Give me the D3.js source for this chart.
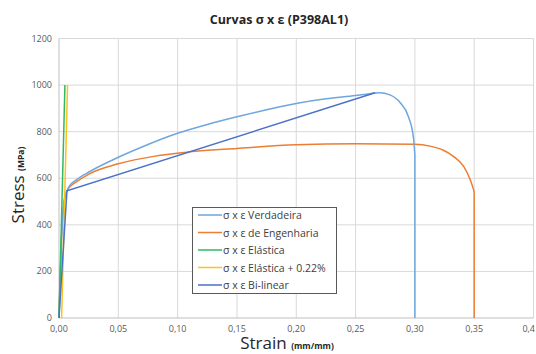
<!DOCTYPE html>
<html>
<head>
<meta charset="utf-8">
<script src="https://cdn.jsdelivr.net/npm/d3@7"></script>
<style>
  body { margin: 0; background: #fff; }
  text { font-family: "Open Sans", "DejaVu Sans", sans-serif; }
</style>
</head>
<body>
<div id="chart"></div>
<script>
// strain (mm/mm), stress (MPa)
const verdadeira = [
  [0, 0], [0.0025, 380], [0.0045, 510], [0.0067, 546], [0.009, 568], [0.0143, 592],
  [0.0256, 628], [0.05, 690], [0.075, 745], [0.10, 793], [0.125, 831], [0.15, 864],
  [0.175, 894], [0.20, 921], [0.225, 941], [0.25, 955], [0.262, 963], [0.27, 967],
  [0.279, 958], [0.2875, 925], [0.2945, 865], [0.2988, 775], [0.30, 700], [0.30, 0]
];
const engenharia = [
  [0, 0], [0.0025, 380], [0.0045, 505], [0.0067, 544], [0.009, 562], [0.0143, 583],
  [0.0256, 619], [0.05, 662], [0.081, 695], [0.106, 711], [0.15, 728], [0.20, 744],
  [0.25, 748], [0.30, 746], [0.3128, 738], [0.324, 720], [0.3325, 694], [0.341, 652],
  [0.3465, 596], [0.3494, 552], [0.35, 540], [0.35, 0]
];
const elastica = [[0, 0], [0.005, 1000]];
const elastica022 = [[0.0022, 0], [0.0072, 1000]];
const bilinear = [[0, 0], [0.0067, 546], [0.2665, 967]];

const seriesNames = ["σ x ε Verdadeira", "σ x ε de Engenharia", "σ x ε Elástica",
  "σ x ε Elástica + 0.22%", "σ x ε Bi-linear"];
const seriesColors = ["#6fa6dc", "#ed7d31", "#2fb866", "#ffc21a", "#4a72c8"];
const xTicks = [0, 0.05, 0.10, 0.15, 0.20, 0.25, 0.30, 0.35, 0.4];
const yTicks = [0, 200, 400, 600, 800, 1000, 1200];

const width = 536, height = 354;
const svg = d3.select("#chart").append("svg")
  .attr("width", width).attr("height", height);

const x = d3.scaleLinear().domain([0, 0.4]).range([59, 533.5]);
const y = d3.scaleLinear().domain([0, 1200]).range([318, 38.5]);

// grid
svg.append("g").selectAll("line").data(xTicks.slice(1)).enter().append("line")
  .attr("x1", d => x(d)).attr("x2", d => x(d))
  .attr("y1", y(0)).attr("y2", y(1200))
  .attr("stroke", "#d9d9d9").attr("stroke-width", 1);
svg.append("g").selectAll("line").data(yTicks.slice(1)).enter().append("line")
  .attr("x1", x(0)).attr("x2", x(0.4))
  .attr("y1", d => y(d)).attr("y2", d => y(d))
  .attr("stroke", "#d9d9d9").attr("stroke-width", 1);
svg.append("line")
  .attr("x1", x(0)).attr("x2", x(0)).attr("y1", y(0)).attr("y2", y(1200))
  .attr("stroke", "#bfbfbf");
svg.append("line")
  .attr("x1", x(0)).attr("x2", x(0.4)).attr("y1", y(0)).attr("y2", y(0))
  .attr("stroke", "#bfbfbf");

// tick labels
const fmt = d => d === 0.4 ? "0,4" : d3.format(".2f")(d).replace(".", ",");
svg.append("g").selectAll("text").data(xTicks).enter().append("text")
  .attr("x", d => d === 0.4 ? 535 : x(d)).attr("y", 332)
  .attr("text-anchor", d => d === 0.4 ? "end" : "middle")
  .attr("font-size", 9).attr("fill", "#595959")
  .text(fmt);
svg.append("g").selectAll("text").data(yTicks).enter().append("text")
  .attr("x", 52).attr("y", d => y(d) + 3)
  .attr("text-anchor", "end").attr("font-size", 9).attr("fill", "#595959")
  .text(d => d);

// curves
const smooth = d3.line().x(d => x(d[0])).y(d => y(d[1])).curve(d3.curveMonotoneX);
const straight = d3.line().x(d => x(d[0])).y(d => y(d[1]));

function drawCurve(data, color) {
  const n = data.length;
  svg.append("path").attr("d", smooth(data.slice(0, n - 1)))
    .attr("fill", "none").attr("stroke", color).attr("stroke-width", 1.5);
  svg.append("path").attr("d", straight(data.slice(n - 2)))
    .attr("fill", "none").attr("stroke", color).attr("stroke-width", 1.5);
}
function drawLine(data, color) {
  svg.append("path").attr("d", straight(data))
    .attr("fill", "none").attr("stroke", color).attr("stroke-width", 1.5);
}

drawCurve(engenharia, seriesColors[1]);
drawCurve(verdadeira, seriesColors[0]);
drawLine(elastica, seriesColors[2]);
drawLine(elastica022, seriesColors[3]);
drawLine(bilinear, seriesColors[4]);

// title
svg.append("text").attr("x", 279).attr("y", 24)
  .attr("text-anchor", "middle").attr("font-size", 12.5).attr("font-weight", "bold")
  .attr("fill", "#262626").text("Curvas σ x ε (P398AL1)");

// axis titles
const yTitle = svg.append("text")
  .attr("transform", "translate(24,185) rotate(-90)")
  .attr("text-anchor", "middle").attr("fill", "#262626");
yTitle.append("tspan").attr("font-size", 17).text("Stress ");
yTitle.append("tspan").attr("font-size", 8.5).attr("font-weight", "bold").text(" (MPa)");

const xTitle = svg.append("text")
  .attr("x", 287).attr("y", 349)
  .attr("text-anchor", "middle").attr("fill", "#262626");
xTitle.append("tspan").attr("font-size", 17).text("Strain ");
xTitle.append("tspan").attr("font-size", 8.5).attr("font-weight", "bold").text("(mm/mm)");

// legend
const legend = svg.append("g");
legend.append("rect")
  .attr("x", 192.5).attr("y", 207.5).attr("width", 144).attr("height", 86)
  .attr("fill", "#fff").attr("stroke", "#595959").attr("stroke-width", 1);
const rows = legend.selectAll("g.row").data(seriesNames).enter().append("g")
  .attr("transform", (d, i) => `translate(0,${215 + i * 17.5})`);
rows.append("line").attr("x1", 198).attr("x2", 222)
  .attr("stroke", (d, i) => seriesColors[i]).attr("stroke-width", 1.5);
rows.append("text").attr("x", 223).attr("y", 4)
  .attr("font-size", 10.5).attr("fill", "#404040").text(d => d);
</script>
</body>
</html>
